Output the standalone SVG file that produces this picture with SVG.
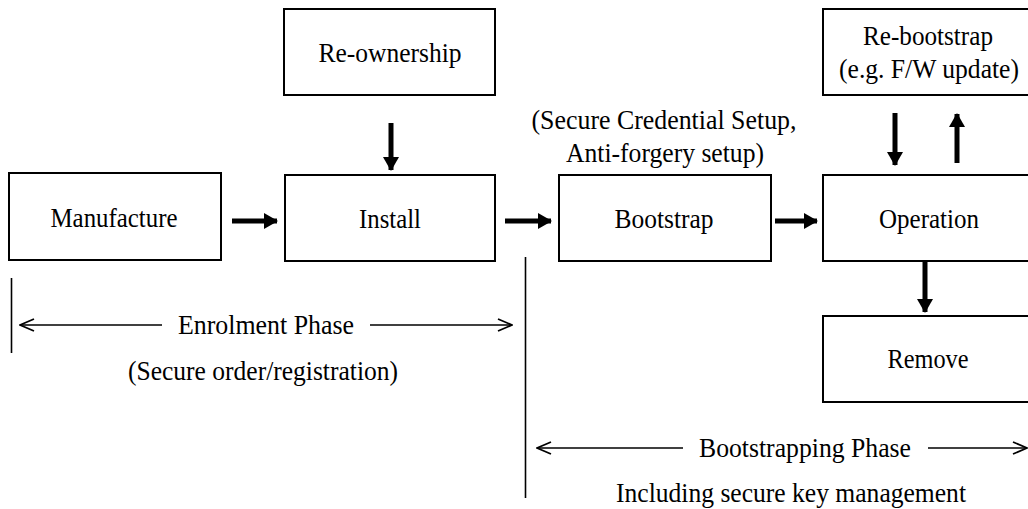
<svg xmlns="http://www.w3.org/2000/svg" width="1028" height="509" viewBox="0 0 1028 509">
  <style>
    .box { fill: #fff; stroke: #000; stroke-width: 2; }
    .t { font-family: "Liberation Serif", "Times New Roman", serif; font-size: 26.5px; fill: #000; text-anchor: middle; }
    .flow { stroke: #000; stroke-width: 5; fill: none; }
    .thin { stroke: #000; stroke-width: 1.6; fill: none; }
  </style>
  <defs>
    <marker id="head" viewBox="0 0 14 16" refX="13" refY="8" markerWidth="14" markerHeight="16" markerUnits="userSpaceOnUse" orient="auto">
      <path d="M0,0 L14,8 L0,16 z" fill="#000"/>
    </marker>
    <marker id="open" viewBox="0 0 16 14" refX="15" refY="7" markerWidth="16" markerHeight="14" markerUnits="userSpaceOnUse" orient="auto-start-reverse">
      <path d="M1,1 L15,7 L1,13" fill="none" stroke="#000" stroke-width="1.8"/>
    </marker>
  </defs>

  <!-- process steps -->
  <g id="manufacture">
    <rect class="box" x="9" y="173" width="212" height="87"/>
    <text class="t" x="114" y="227" textLength="127" lengthAdjust="spacingAndGlyphs">Manufacture</text>
  </g>
  <g id="install">
    <rect class="box" x="285" y="175" width="210" height="86"/>
    <text class="t" x="390" y="228" textLength="62" lengthAdjust="spacingAndGlyphs">Install</text>
  </g>
  <g id="reownership">
    <rect class="box" x="284" y="9" width="211" height="86"/>
    <text class="t" x="390" y="62" textLength="143" lengthAdjust="spacingAndGlyphs">Re-ownership</text>
  </g>
  <g id="bootstrap">
    <rect class="box" x="559" y="175" width="212" height="86"/>
    <text class="t" x="664" y="228" textLength="99" lengthAdjust="spacingAndGlyphs">Bootstrap</text>
    <text class="t" x="664" y="129" textLength="265" lengthAdjust="spacingAndGlyphs">(Secure Credential Setup,</text>
    <text class="t" x="665" y="162" textLength="198" lengthAdjust="spacingAndGlyphs">Anti-forgery setup)</text>
  </g>
  <g id="operation">
    <rect class="box" x="823" y="175" width="210" height="86"/>
    <text class="t" x="929" y="228" textLength="100" lengthAdjust="spacingAndGlyphs">Operation</text>
  </g>
  <g id="rebootstrap">
    <rect class="box" x="823" y="9" width="210" height="86"/>
    <text class="t" x="928" y="45" textLength="130" lengthAdjust="spacingAndGlyphs">Re-bootstrap</text>
    <text class="t" x="929" y="78" textLength="180" lengthAdjust="spacingAndGlyphs">(e.g. F/W update)</text>
  </g>
  <g id="remove">
    <rect class="box" x="823" y="316" width="210" height="86"/>
    <text class="t" x="928" y="368" textLength="81" lengthAdjust="spacingAndGlyphs">Remove</text>
  </g>

  <!-- flow connectors -->
  <g id="connectors">
    <line class="flow" x1="232" y1="221" x2="277" y2="221" marker-end="url(#head)"/>
    <line class="flow" x1="505" y1="221" x2="551" y2="221" marker-end="url(#head)"/>
    <line class="flow" x1="775" y1="221" x2="817" y2="221" marker-end="url(#head)"/>
    <line class="flow" x1="391" y1="123" x2="391" y2="170" marker-end="url(#head)"/>
    <line class="flow" x1="895" y1="113" x2="895" y2="165" marker-end="url(#head)"/>
    <line class="flow" x1="957" y1="163" x2="957" y2="114" marker-end="url(#head)"/>
    <line class="flow" x1="925" y1="262" x2="925" y2="312" marker-end="url(#head)"/>
  </g>

  <!-- phase brackets -->
  <g id="enrolment-phase">
    <line class="thin" x1="11.5" y1="278" x2="11.5" y2="353"/>
    <line class="thin" x1="20" y1="325" x2="162" y2="325" marker-start="url(#open)"/>
    <line class="thin" x1="370" y1="325" x2="512" y2="325" marker-end="url(#open)"/>
    <text class="t" x="266" y="334" textLength="176" lengthAdjust="spacingAndGlyphs">Enrolment Phase</text>
    <text class="t" x="263" y="380" textLength="270" lengthAdjust="spacingAndGlyphs">(Secure order/registration)</text>
  </g>
  <g id="bootstrapping-phase">
    <line class="thin" x1="525.5" y1="257" x2="525.5" y2="498"/>
    <line class="thin" x1="537" y1="448" x2="683" y2="448" marker-start="url(#open)"/>
    <line class="thin" x1="928" y1="448" x2="1027" y2="448" marker-end="url(#open)"/>
    <text class="t" x="805" y="457" textLength="212" lengthAdjust="spacingAndGlyphs">Bootstrapping Phase</text>
    <text class="t" x="791" y="502" textLength="350" lengthAdjust="spacingAndGlyphs">Including secure key management</text>
  </g>
</svg>
